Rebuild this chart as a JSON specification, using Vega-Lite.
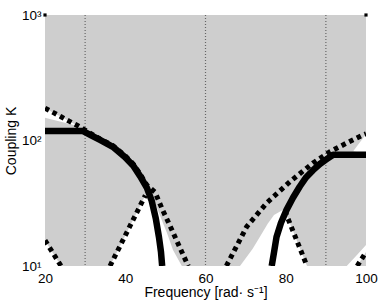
{
  "$schema": "https://vega.github.io/schema/vega-lite/v6.json",
  "width": 321,
  "height": 251,
  "autosize": "none",
  "padding": {"left": 45, "top": 15, "right": 16, "bottom": 38},
  "config": {
    "view": {"fill": "#cecece", "stroke": null},
    "font": "Liberation Sans",
    "axis": {
      "ticks": false,
      "domain": false,
      "grid": false,
      "labelFontSize": 13.5,
      "labelColor": "#000000",
      "titleFontSize": 14,
      "titleFontWeight": "normal",
      "titleColor": "#000000",
      "labelFont": "Liberation Sans",
      "titleFont": "Liberation Sans"
    }
  },
  "datasets": {
    "white": [
      {"w": "TL", "x": 20, "hi": 181, "lo": 152},
      {"w": "TL", "x": 28.4, "hi": 130, "lo": 130},
      {"w": "BL", "x": 20, "hi": 16, "lo": 10},
      {"w": "BL", "x": 24, "hi": 10, "lo": 10},
      {"w": "M", "x": 36.2, "hi": 10, "lo": 10},
      {"w": "M", "x": 45.0, "hi": 36.5, "lo": 10},
      {"w": "M", "x": 45.8, "hi": 41, "lo": 10},
      {"w": "M", "x": 46.2, "hi": 40, "lo": 10},
      {"w": "M", "x": 48.7, "hi": 25, "lo": 10},
      {"w": "M", "x": 50.4, "hi": 18.3, "lo": 10},
      {"w": "M", "x": 51.9, "hi": 13.4, "lo": 10},
      {"w": "M", "x": 54.1, "hi": 10, "lo": 10},
      {"w": "R", "x": 68.6, "hi": 10, "lo": 10},
      {"w": "R", "x": 71.76, "hi": 13.7, "lo": 10},
      {"w": "R", "x": 73.83, "hi": 17.7, "lo": 10},
      {"w": "R", "x": 75.5, "hi": 21.7, "lo": 10},
      {"w": "R", "x": 77.07, "hi": 25.5, "lo": 10},
      {"w": "R", "x": 79.24, "hi": 27.9, "lo": 10},
      {"w": "R", "x": 79.8, "hi": 27.4, "lo": 10},
      {"w": "R", "x": 85.3, "hi": 10, "lo": 10},
      {"w": "TR", "x": 96.8, "hi": 82, "lo": 82},
      {"w": "TR", "x": 100, "hi": 112, "lo": 78},
      {"w": "BR", "x": 95.2, "hi": 10, "lo": 10},
      {"w": "BR", "x": 97.8, "hi": 12.3, "lo": 10},
      {"w": "BR", "x": 100, "hi": 14.7, "lo": 12.9}
    ],
    "vlines": [{"x": 30}, {"x": 60}, {"x": 90}],
    "dotted": [
      {"s": "A", "x": 20, "k": 181},
      {"s": "A", "x": 22, "k": 167.5},
      {"s": "A", "x": 24, "k": 154.6},
      {"s": "A", "x": 26, "k": 142.6},
      {"s": "A", "x": 28.2, "k": 131},
      {"s": "A", "x": 30, "k": 121},
      {"s": "A", "x": 33.7, "k": 103},
      {"s": "A", "x": 36.9, "k": 91},
      {"s": "A", "x": 39.9, "k": 76},
      {"s": "A", "x": 42.0, "k": 65},
      {"s": "A", "x": 43.7, "k": 54},
      {"s": "A", "x": 45.4, "k": 44},
      {"s": "A", "x": 47.4, "k": 38.9},
      {"s": "A", "x": 49.3, "k": 28},
      {"s": "A", "x": 51.4, "k": 20.1},
      {"s": "A", "x": 53.4, "k": 14.5},
      {"s": "A", "x": 55.7, "k": 10},
      {"s": "B", "x": 36.2, "k": 10},
      {"s": "B", "x": 45.0, "k": 36.5},
      {"s": "C", "x": 20, "k": 16},
      {"s": "C", "x": 24, "k": 10},
      {"s": "D", "x": 65.2, "k": 10},
      {"s": "D", "x": 70.27, "k": 20.6},
      {"s": "D", "x": 75.25, "k": 31.8},
      {"s": "D", "x": 81.06, "k": 47},
      {"s": "D", "x": 86.79, "k": 66.2},
      {"s": "D", "x": 91.03, "k": 81.4},
      {"s": "D", "x": 95.19, "k": 95.5},
      {"s": "D", "x": 99.25, "k": 110.6},
      {"s": "D", "x": 100, "k": 113},
      {"s": "E", "x": 79.8, "k": 27.4},
      {"s": "E", "x": 85.3, "k": 10},
      {"s": "F", "x": 97.8, "k": 10},
      {"s": "F", "x": 100, "k": 12.9}
    ],
    "solid": [
      {"s": "L", "x": 20, "k": 119},
      {"s": "L", "x": 29.5, "k": 119},
      {"s": "L", "x": 31.5, "k": 110},
      {"s": "L", "x": 33.7, "k": 101},
      {"s": "L", "x": 36.9, "k": 89},
      {"s": "L", "x": 39.9, "k": 74},
      {"s": "L", "x": 42.0, "k": 63},
      {"s": "L", "x": 43.7, "k": 52},
      {"s": "L", "x": 45.4, "k": 42},
      {"s": "L", "x": 46.6, "k": 33},
      {"s": "L", "x": 47.6, "k": 24},
      {"s": "L", "x": 48.4, "k": 17},
      {"s": "L", "x": 48.9, "k": 13},
      {"s": "L", "x": 49.2, "k": 10},
      {"s": "R", "x": 76.5, "k": 10},
      {"s": "R", "x": 77.1, "k": 13},
      {"s": "R", "x": 77.7, "k": 17},
      {"s": "R", "x": 78.8, "k": 22},
      {"s": "R", "x": 80.2, "k": 28},
      {"s": "R", "x": 81.8, "k": 35},
      {"s": "R", "x": 83.5, "k": 43},
      {"s": "R", "x": 85.1, "k": 51},
      {"s": "R", "x": 86.8, "k": 58},
      {"s": "R", "x": 88.5, "k": 65},
      {"s": "R", "x": 90.2, "k": 71},
      {"s": "R", "x": 91.8, "k": 77},
      {"s": "R", "x": 100, "k": 77}
    ],
    "corners": [{"x": 20, "k": 1000}, {"x": 100, "k": 1000}]
  },
  "layer": [
    {
      "data": {"name": "white"},
      "mark": {"type": "area", "color": "#ffffff", "clip": true},
      "encoding": {
        "x": {
          "field": "x", "type": "quantitative",
          "scale": {"domain": [20, 100], "nice": false, "zero": false},
          "axis": {
            "values": [20, 40, 60, 80, 100],
            "labelFlush": false,
            "labelPadding": 5,
            "title": "Frequency [rad· s⁻¹]",
            "titlePadding": 1
          }
        },
        "y": {
          "field": "hi", "type": "quantitative",
          "scale": {"type": "log", "domain": [10, 1000], "nice": false},
          "axis": {
            "values": [10, 100, 1000],
            "labelExpr": "datum.value == 10 ? '10¹' : datum.value == 100 ? '10²' : '10³'",
            "labelPadding": 4,
            "title": "Coupling K",
            "titlePadding": 3
          }
        },
        "y2": {"field": "lo"},
        "detail": {"field": "w"}
      }
    },
    {
      "data": {"name": "vlines"},
      "mark": {"type": "rule", "color": "#666666", "strokeWidth": 1.2, "strokeDash": [1, 2]},
      "encoding": {"x": {"field": "x", "type": "quantitative"}}
    },
    {
      "data": {"name": "dotted"},
      "mark": {"type": "line", "color": "#000000", "strokeWidth": 5, "strokeDash": [4.5, 4], "strokeCap": "butt", "clip": true},
      "encoding": {
        "x": {"field": "x", "type": "quantitative"},
        "y": {"field": "k", "type": "quantitative"},
        "detail": {"field": "s"}
      }
    },
    {
      "data": {"name": "solid"},
      "mark": {"type": "line", "color": "#000000", "strokeWidth": 6.5, "strokeJoin": "round", "clip": true},
      "encoding": {
        "x": {"field": "x", "type": "quantitative"},
        "y": {"field": "k", "type": "quantitative"},
        "detail": {"field": "s"}
      }
    },
    {
      "data": {"name": "corners"},
      "mark": {"type": "point", "shape": "square", "filled": true, "color": "#000000", "size": 10, "opacity": 1},
      "encoding": {
        "x": {"field": "x", "type": "quantitative"},
        "y": {"field": "k", "type": "quantitative"}
      }
    }
  ]
}
